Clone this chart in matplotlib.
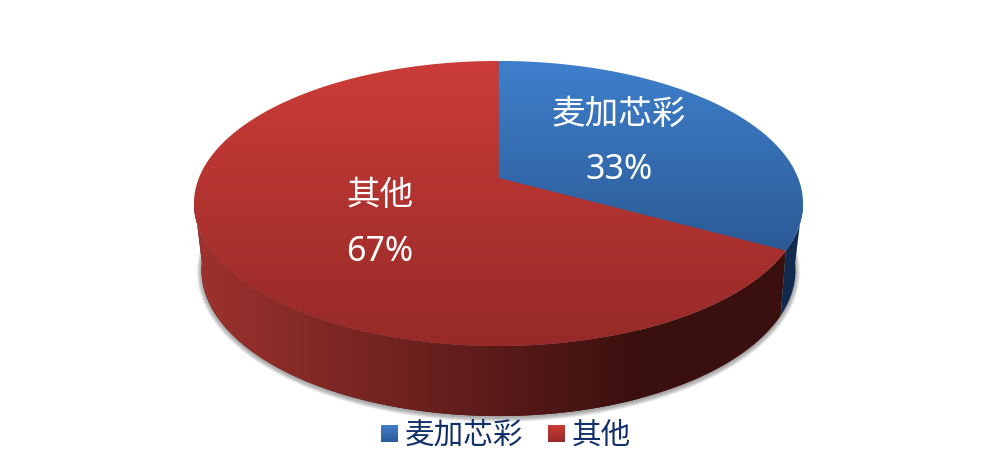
import numpy as np
import matplotlib
matplotlib.use('Agg')
import matplotlib.pyplot as plt
from matplotlib.patches import Polygon

plt.rcParams['font.family'] = ['Noto Sans CJK SC', 'DejaVu Sans']

# data
categories = ['麦加芯彩', '其他']
shares = [33, 67]
top_colors = [((62, 127, 204), (44, 91, 150)), ((204, 60, 56), (150, 42, 40))]
side_colors = [((18, 42, 78), (22, 50, 90)), ((158, 50, 46), (58, 16, 15))]

# perspective of the disc, pixel units
CX, CY = 498.5, 178
A, B, K = 299.6, 138, 0.179
A2, B2, K2, CY2 = 291, 140.2, 0.2, 240.8


def project(t, a=A, b=B, k=K, cy=CY):
    w = 1 + k * np.sin(t)
    return CX + a * np.cos(t) / w, cy - b * np.sin(t) / w


def rgb(c):
    return tuple(v / 255 for v in c)


def vgrad(ax, pts, c0, c1):
    # vertical gradient clipped to polygon, spans the polygon's height
    y0, y1 = np.min(np.array(pts)[:, 1]), np.max(np.array(pts)[:, 1])
    g = np.linspace(0, 1, 256)[:, None, None]
    img = np.array(c0)[None, None, :] * (1 - g) + np.array(c1)[None, None, :] * g
    im = ax.imshow(img / 255, extent=(0, 1001, y1, y0), aspect='auto', zorder=3)
    im.set_clip_path(Polygon(pts, transform=ax.transData))


def hgrad(ax, pts, c0, c1, x0, x1, zorder=2):
    g = np.linspace(0, 1, 256)[None, :, None]
    img = np.array(c0)[None, None, :] * (1 - g) + np.array(c1)[None, None, :] * g
    im = ax.imshow(img / 255, extent=(x0, x1, 471, 0), aspect='auto', zorder=zorder)
    im.set_clip_path(Polygon(pts, transform=ax.transData))


fig = plt.figure(figsize=(10.01, 4.71), dpi=100)
ax = fig.add_axes([0, 0, 1, 1])
ax.set_xlim(0, 1001)
ax.set_ylim(471, 0)
ax.axis('off')

# soft shadow under the disc
tt = np.linspace(0, 2 * np.pi, 360)
for i in range(8):
    sx, sy = project(tt, A2 + 4.5 - i * 0.6, B2 + 4 - i * 0.5, K2, CY2 + 1)
    ax.fill(sx, sy, color='#555555', alpha=0.08, lw=0, zorder=1)

# slice angles, clockwise from 12 o'clock
fracs = np.cumsum([0] + shares) / sum(shares)
angles = np.pi / 2 - 2 * np.pi * fracs

# side wall, only the part below the widest point shows
for i in range(2):
    t = np.linspace(angles[i], angles[i + 1], 600)
    t = t[np.sin(t) <= -0.15]
    x1, y1 = project(t)
    x2, y2 = project(t, A2, B2, K2, CY2)
    pts = np.column_stack([np.r_[x1, x2[::-1]], np.r_[y1, y2[::-1]]])
    if i == 1:
        ax.fill(pts[:, 0], pts[:, 1], color=rgb(side_colors[i][1]), lw=0, zorder=1.5)
        hgrad(ax, pts, side_colors[i][0], side_colors[i][1], 194, 640)
    else:
        ax.fill(pts[:, 0], pts[:, 1], color=rgb(side_colors[i][0]), lw=0, zorder=2)

# underlay hides the seam between the slices
ux, uy = project(tt, A - 1.5, B - 1, K, CY)
ax.fill(ux, uy, color=(0.66, 0.2, 0.19), lw=0, zorder=2.5)

# top face
for i in range(2):
    t = np.linspace(angles[i], angles[i + 1], 400)
    x, y = project(t)
    pts = np.column_stack([np.r_[CX, x], np.r_[CY, y]])
    vgrad(ax, pts, top_colors[i][0], top_colors[i][1])

ax.set_xlim(0, 1001)
ax.set_ylim(471, 0)

# slice labels
label_pos = [(619, 114), (380, 196)]
pct_pos = [(619, 170), (380, 252)]
for i in range(2):
    ax.text(*label_pos[i], categories[i], color='white', fontsize=24.2, ha='center', va='center', zorder=5)
    ax.text(*pct_pos[i], f'{shares[i]}%', color='white', fontsize=24.5, ha='center', va='center', zorder=5,
            family=['Noto Sans', 'DejaVu Sans'])

# legend, drawn by hand to keep the gradient swatches
legend_x = [381, 548]
for i in range(2):
    x0, x1 = legend_x[i], legend_x[i] + 17
    sq = [(x0, 425), (x1, 425), (x1, 442), (x0, 442)]
    vgrad(ax, sq, top_colors[i][0], top_colors[i][1])
    ax.text(x1 + 7, 435, categories[i], color='#12306a', fontsize=21.3, ha='left', va='center', zorder=5)

fig.savefig('out.png', dpi=100)
